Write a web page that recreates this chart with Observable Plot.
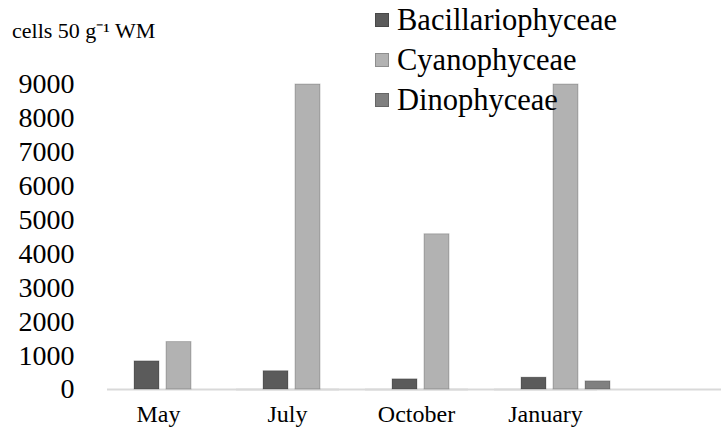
<!DOCTYPE html>
<html><head><meta charset="utf-8">
<script src="https://cdn.jsdelivr.net/npm/d3@7"></script>
<script src="https://cdn.jsdelivr.net/npm/@observablehq/plot@0.6"></script>
<style>
body{margin:0;background:#fff;}
#wrap{position:relative;width:721px;height:432px;font-family:"Liberation Serif","Times New Roman",serif;color:#000;}
#title{position:absolute;left:12px;top:20px;font-size:22px;line-height:1;}
#legend{position:absolute;left:375px;top:0px;font-size:30.5px;line-height:1;}
.row{display:flex;align-items:center;height:40px;}
.sw{width:12px;height:12px;margin-right:8px;border:1px solid rgba(0,0,0,0.2);}
</style></head><body>
<div id="wrap"><div id="chart"></div><div id="title">cells 50 g⁻¹ WM</div><div id="legend"></div></div>
<script>
const months = ["May", "July", "October", "January"];
const series = ["Bacillariophyceae", "Cyanophyceae", "Dinophyceae"];
const bacillariophyceae = [830, 540, 300, 350];
const cyanophyceae = [1400, 9000, 4580, 9000];
const dinophyceae = [0, 0, 0, 240];
const yTicks = [0, 1000, 2000, 3000, 4000, 5000, 6000, 7000, 8000, 9000];
const fills = ["#5b5b5b", "#b2b2b2", "#808080"];

const values = [bacillariophyceae, cyanophyceae, dinophyceae];
const data = months.flatMap((m, i) => series.map((s, j) => ({month: m, series: s, value: values[j][i]})))
  .filter(d => d.value > 0);

const chart = Plot.plot({
  width: 721, height: 432,
  marginLeft: 106, marginRight: 83, marginTop: 84, marginBottom: 43,
  style: {fontFamily: "'Liberation Serif', 'Times New Roman', serif", background: "#fff", color: "#000"},
  fx: {domain: months, paddingInner: 0.3, paddingOuter: 0.2, label: null, axis: null},
  x: {domain: series, paddingInner: 0.22, paddingOuter: 0, axis: null},
  y: {domain: [0, 9000], label: null, axis: null},
  color: {domain: series, range: fills},
  marks: [
    Plot.ruleY([0], {stroke: "#d9d9d9", strokeWidth: 2, insetLeft: -26, insetRight: -116}),
    Plot.barY(data, {fx: "month", x: "series", y: "value", fill: "series", stroke: "#000", strokeOpacity: 0.2, strokeWidth: 1}),
    Plot.axisY({ticks: yTicks, tickSize: 0, tickPadding: 59, fontSize: 28, label: null, tickFormat: d => String(d)}),
    Plot.axisFx({anchor: "bottom", tickSize: 0, tickPadding: 15, fontSize: 24, dx: -20, label: null})
  ]
});
document.getElementById("chart").appendChild(chart);

const legend = document.getElementById("legend");
series.forEach((s, i) => {
  const row = document.createElement("div");
  row.className = "row";
  const sw = document.createElement("span");
  sw.className = "sw";
  sw.style.background = fills[i];
  const t = document.createElement("span");
  t.textContent = s;
  row.appendChild(sw); row.appendChild(t);
  legend.appendChild(row);
});
</script>
</body></html>
